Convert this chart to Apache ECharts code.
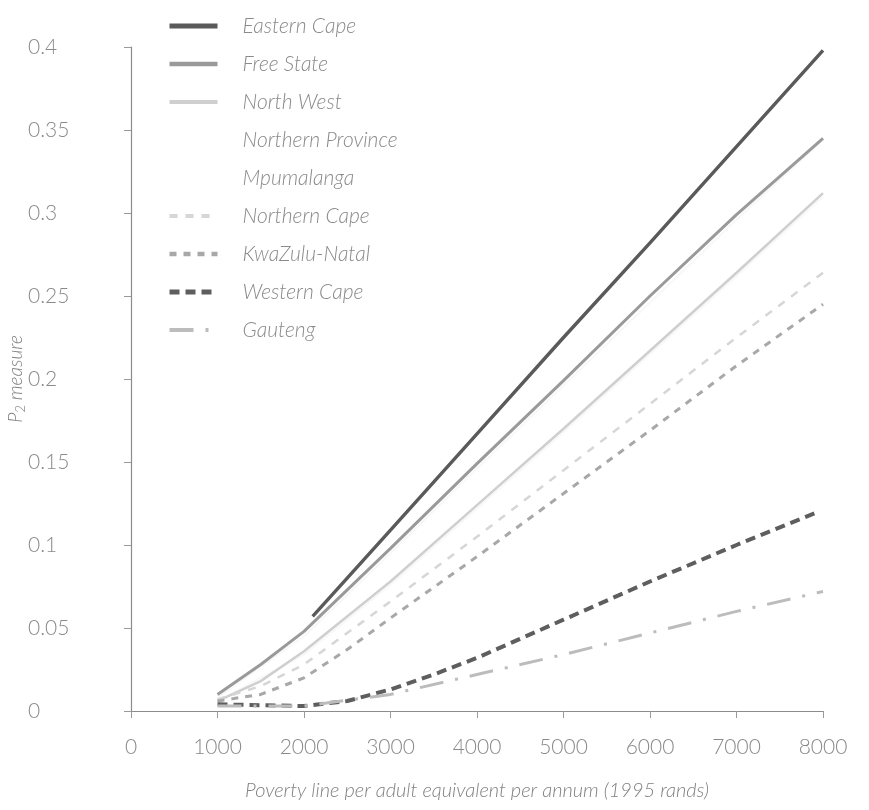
<!DOCTYPE html>
<html>
<head>
<meta charset="utf-8">
<script src="https://cdn.jsdelivr.net/npm/echarts@6/dist/echarts.min.js"></script>
<style>html,body{margin:0;padding:0;background:#fff}#c{width:869px;height:810px}</style>
</head>
<body>
<div id="c"></div>
<script>
// Data
const seriesNames = ['Eastern Cape','Free State','North West','Northern Province','Mpumalanga','Northern Cape','KwaZulu-Natal','Western Cape','Gauteng'];

const easternCapeX = [2100, 3000, 4000, 5000, 6000, 7000, 8000];
const easternCapeY = [0.057, 0.109, 0.167, 0.225, 0.282, 0.340, 0.398];

const freeStateX = [1000, 1500, 2000, 3000, 4000, 5000, 6000, 7000, 8000];
const freeStateY = [0.010, 0.028, 0.048, 0.098, 0.149, 0.199, 0.250, 0.299, 0.345];

const northWestX = [1000, 1500, 2000, 3000, 4000, 5000, 6000, 7000, 8000];
const northWestY = [0.006, 0.018, 0.036, 0.078, 0.124, 0.170, 0.217, 0.264, 0.312];

const northernProvinceX = [1000, 2000, 3000, 4000, 5000, 6000, 7000, 8000];
const northernProvinceY = [0.008, 0.045, 0.095, 0.146, 0.196, 0.246, 0.296, 0.344];

const mpumalangaX = [1000, 2000, 3000, 4000, 5000, 6000, 7000, 8000];
const mpumalangaY = [0.006, 0.034, 0.076, 0.122, 0.168, 0.215, 0.262, 0.310];

const northernCapeX = [1000, 1500, 2000, 3000, 4000, 5000, 6000, 7000, 8000];
const northernCapeY = [0.007, 0.015, 0.028, 0.066, 0.105, 0.145, 0.185, 0.225, 0.264];

const kwaZuluNatalX = [1000, 1500, 2000, 2500, 3000, 4000, 5000, 6000, 7000, 8000];
const kwaZuluNatalY = [0.006, 0.010, 0.020, 0.037, 0.056, 0.093, 0.131, 0.169, 0.208, 0.245];

const westernCapeX = [1000, 2000, 2500, 3000, 3500, 4000, 5000, 6000, 7000, 7900];
const westernCapeY = [0.004, 0.003, 0.006, 0.013, 0.022, 0.032, 0.055, 0.078, 0.100, 0.119];

const gautengX = [1000, 2000, 3000, 4000, 5000, 6000, 7000, 8000];
const gautengY = [0.003, 0.003, 0.010, 0.022, 0.034, 0.047, 0.060, 0.072];

const xTicks = [0, 1000, 2000, 3000, 4000, 5000, 6000, 7000, 8000];
const yTicks = [0, 0.05, 0.1, 0.15, 0.2, 0.25, 0.3, 0.35, 0.4];

function pairs(xs, ys) { return xs.map((x, i) => [x, ys[i]]); }

const styles = [
  {color: '#5a5a5a', width: 3.4, type: 'solid', lw: 5, lc: '#5a5a5a'},
  {color: '#9a9a9a', width: 3, type: 'solid', lw: 4.5, lc: '#9a9a9a'},
  {color: '#cfcfcf', width: 2.5, type: 'solid', lw: 4, lc: '#cfcfcf'},
  {color: '#f8f8f8', width: 2, type: 'solid', lw: 3, lc: 'rgba(255,255,255,0)'},
  {color: '#f8f8f8', width: 2, type: 'solid', lw: 3, lc: 'rgba(255,255,255,0)'},
  {color: '#d6d6d6', width: 2.5, type: [8, 8], lw: 4, lc: '#d6d6d6'},
  {color: '#a8a8a8', width: 3, type: [7, 7], lw: 4.5, lc: '#a8a8a8'},
  {color: '#5e5e5e', width: 4, type: [10, 6], lw: 5, lc: '#5e5e5e'},
  {color: '#bcbcbc', width: 3, type: [24, 12, 3, 12], lw: 4, lc: '#bcbcbc'}
];
const dataSets = [
  pairs(easternCapeX, easternCapeY),
  pairs(freeStateX, freeStateY),
  pairs(northWestX, northWestY),
  pairs(northernProvinceX, northernProvinceY),
  pairs(mpumalangaX, mpumalangaY),
  pairs(northernCapeX, northernCapeY),
  pairs(kwaZuluNatalX, kwaZuluNatalY),
  pairs(westernCapeX, westernCapeY),
  pairs(gautengX, gautengY)
];

const font = 'Lato, "Open Sans", sans-serif';
const chart = echarts.init(document.getElementById('c'), null, {renderer: 'canvas'});
chart.setOption({
  backgroundColor: '#ffffff',
  animation: false,
  grid: {left: 131, right: 46, top: 47, bottom: 99, containLabel: false, outerBoundsMode: 'none'},
  legend: {
    orient: 'vertical',
    left: 162,
    top: 10,
    itemWidth: 48,
    itemHeight: 14,
    itemGap: 16,
    data: seriesNames.map((n, i) => ({
      name: n,
      itemStyle: {opacity: 0},
      lineStyle: {width: styles[i].lw, color: styles[i].lc, type: styles[i].type}
    })),
    itemStyle: {opacity: 0},
    textStyle: {fontFamily: font, fontStyle: 'italic', fontWeight: 300, fontSize: 21, lineHeight: 22, color: '#8a8a8a', padding: [0, 0, 0, 20]}
  },
  xAxis: {
    type: 'value',
    min: 0, max: 8000, interval: 1000,
    name: 'Poverty line per adult equivalent per annum (1995 rands)',
    nameLocation: 'middle',
    nameGap: 70,
    nameMoveOverlap: false,
    nameTextStyle: {fontFamily: font, fontStyle: 'italic', fontWeight: 300, fontSize: 20, color: '#808080'},
    axisLine: {lineStyle: {color: '#8c8c8c', width: 1.2}},
    axisTick: {show: true, inside: false, length: 7, lineStyle: {color: '#9a9a9a'}},
    axisLabel: {fontFamily: font, fontWeight: 300, fontSize: 21, color: '#8a8a8a', margin: 26, formatter: v => String(v)},
    splitLine: {show: false}
  },
  yAxis: {
    type: 'value',
    min: 0, max: 0.4, interval: 0.05,
    name: '{i|P}{s|2}{i| measure}',
    nameLocation: 'middle',
    nameGap: 104,
    nameRotate: 90,
    nameMoveOverlap: false,
    nameTextStyle: {
      rich: {
        i: {fontFamily: font, fontStyle: 'italic', fontWeight: 300, fontSize: 19, color: '#808080'},
        s: {fontFamily: font, fontWeight: 300, fontSize: 13, color: '#808080', verticalAlign: 'bottom', padding: [9, 0, 0, 0]}
      }
    },
    axisLine: {show: true, lineStyle: {color: '#8c8c8c', width: 1.2}},
    axisTick: {show: true, inside: false, length: 7, lineStyle: {color: '#9a9a9a'}},
    axisLabel: {fontFamily: font, fontWeight: 300, fontSize: 21, color: '#8a8a8a', margin: 103, align: 'left'},
    splitLine: {show: false}
  },
  series: seriesNames.map((n, i) => ({
    name: n,
    type: 'line',
    symbol: 'none',
    z: (i === 3 || i === 4) ? 1 : 2,
    data: dataSets[i],
    lineStyle: {color: styles[i].color, width: styles[i].width, type: styles[i].type},
    itemStyle: {color: styles[i].color}
  }))
});
</script>
</body>
</html>
